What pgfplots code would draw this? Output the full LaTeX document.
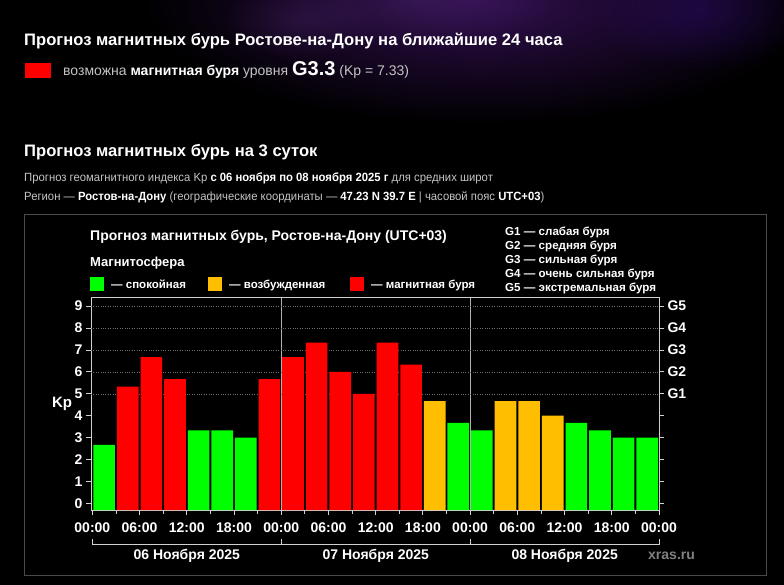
\documentclass[border=0pt]{standalone}
\usepackage{pgfplots}
\pgfplotsset{compat=1.18}
\usepackage{pgfplotstable}
\usetikzlibrary{fadings}
\usepackage{fontspec}
\setmainfont{Liberation Sans}
\newfontfamily\narrowfont[FakeStretch=0.95]{Liberation Sans}
\definecolor{kpgreen}{HTML}{00FF00}
\definecolor{kporange}{HTML}{FFBF00}
\definecolor{kpred}{HTML}{FF0000}
\definecolor{pagegray}{HTML}{C4C4C4}
\definecolor{boxgray}{HTML}{4A4A4A}
\definecolor{axgray}{HTML}{D0D0D0}
\definecolor{gridgray}{HTML}{707070}
\definecolor{nebula}{RGB}{66,20,106}
\newcommand\px[1]{\fontsize{#1}{#1}\selectfont}
\tikzfading[name=softedge, inner color=transparent!0, outer color=transparent!100]

% hour (centre of 3-hour interval), Kp
\pgfplotstableread{
h kp
1.5 2.67
13.5 3.33
16.5 3.33
19.5 3.00
46.5 3.67
49.5 3.33
61.5 3.67
64.5 3.33
67.5 3.00
70.5 3.00
}\greendata
\pgfplotstableread{
h kp
43.5 4.67
52.5 4.67
55.5 4.67
58.5 4.00
}\orangedata
\pgfplotstableread{
h kp
4.5 5.33
7.5 6.67
10.5 5.67
22.5 5.67
25.5 6.67
28.5 7.33
31.5 6.00
34.5 5.00
37.5 7.33
40.5 6.33
}\reddata

\begin{document}
\begin{tikzpicture}
\path[use as bounding box] (0pt,0pt) rectangle (784pt,-585pt);
\fill[black] (0pt,0pt) rectangle (784pt,-585pt);
\begin{scope}[x=1pt,y=-1pt]
  % nebula glow
  \fill[nebula, path fading=softedge, fill opacity=0.75] (480,0) ellipse (340 and 125);
  \fill[nebula!90!white, path fading=softedge, fill opacity=0.3] (420,0) ellipse (140 and 50);
  \fill[nebula!80!blue, path fading=softedge, fill opacity=0.35] (700,10) ellipse (110 and 60);
  \fill[nebula!90!white, path fading=softedge, fill opacity=0.3] (300,20) ellipse (80 and 40);
  % page texts
  \node[anchor=base west, inner sep=0, text=white, font=\bfseries\px{16.6}] at (24,46)
    {Прогноз магнитных бурь Ростове-на-Дону на ближайшие 24 часа};
  \fill[kpred] (25,63) rectangle (51,78);
  \node[anchor=base west, inner sep=0, text=pagegray, font=\px{14}] at (63,76)
    {возможна \textcolor{white}{\bfseries магнитная буря} уровня \textcolor{white}{\bfseries\px{20}G3.3} (Kp = 7.33)};
  \node[anchor=base west, inner sep=0, text=white, font=\bfseries\px{16.6}] at (24,157)
    {Прогноз магнитных бурь на 3 суток};
  \node[anchor=base west, inner sep=0, text=pagegray, font=\narrowfont\px{11.9}] at (24,182)
    {Прогноз геомагнитного индекса Kp \textcolor{white}{\bfseries с 06 ноября по 08 ноября 2025 г} для средних широт};
  \node[anchor=base west, inner sep=0, text=pagegray, font=\narrowfont\px{11.9}] at (24,201)
    {Регион — \textcolor{white}{\bfseries Ростов-на-Дону} (географические координаты — \textcolor{white}{\bfseries 47.23 N 39.7 E} | часовой пояс \textcolor{white}{\bfseries UTC+03})};
  % chart frame
  \draw[boxgray, line width=1pt] (24.5,214.5) rectangle (766,575);
  % chart header and legend
  \node[anchor=base west, inner sep=0, text=white, font=\bfseries\px{14}] at (90,241)
    {Прогноз магнитных бурь, Ростов-на-Дону (UTC+03)};
  \node[anchor=base west, inner sep=0, text=white, font=\bfseries\px{13}] at (90,267) {Магнитосфера};
  \fill[kpgreen] (90,277) rectangle (104,291);
  \node[anchor=base west, inner sep=0, text=white, font=\bfseries\px{11.5}] at (111,288) {— спокойная};
  \fill[kporange] (208,277) rectangle (222,291);
  \node[anchor=base west, inner sep=0, text=white, font=\bfseries\px{11.5}] at (229,288) {— возбужденная};
  \fill[kpred] (350,277) rectangle (364,291);
  \node[anchor=base west, inner sep=0, text=white, font=\bfseries\px{11.5}] at (371,288) {— магнитная буря};
  \foreach \t [count=\i] in {G1 — слабая буря, G2 — средняя буря, G3 — сильная буря, G4 — очень сильная буря, G5 — экстремальная буря}
    \node[anchor=base west, inner sep=0, text=white, font=\bfseries\px{11.6}] at (505,221.5+14*\i) {\t};
  % day brackets
  \draw[axgray, line width=1pt] (92.3,539) -- (92.3,544.5) -- (659,544.5) -- (659,539);
  \draw[axgray, line width=1pt] (281.3,539) -- (281.3,544.5);
  \draw[axgray, line width=1pt] (470.3,539) -- (470.3,544.5);
  \node[anchor=base, inner sep=0, text=white, font=\bfseries\px{14}] at (186.8,559) {06 Ноября 2025};
  \node[anchor=base, inner sep=0, text=white, font=\bfseries\px{14}] at (375.8,559) {07 Ноября 2025};
  \node[anchor=base, inner sep=0, text=white, font=\bfseries\px{14}] at (564.7,559) {08 Ноября 2025};
  \node[anchor=base west, inner sep=0, text=gray, font=\bfseries\px{14}] at (648,559) {xras.ru};
\end{scope}

\pgfplotsset{kpaxis/.style={
  at={(91pt,-510pt)}, anchor=south west,
  scale only axis, width=568pt, height=212pt,
  xmin=-0.17, xmax=72, ymin=-0.3, ymax=9.37,
  y coord trafo/.code={\pgfmathparse{##1+0.3}},
  y coord inv trafo/.code={\pgfmathparse{##1-0.3}},
  /pgf/number format/assume math mode=true,
  tick align=outside, major tick length=5pt, minor tick length=4pt,
  tick style={axgray, line width=0.8pt},
  ticklabel style={font=\bfseries\px{14}, text=white},
}}

\begin{axis}[kpaxis,
  axis line style={axgray, line width=1pt},
  xtick={0,6,...,72},
  xticklabels={00:00,06:00,12:00,18:00,00:00,06:00,12:00,18:00,00:00,06:00,12:00,18:00,00:00},
  minor xtick={3,9,...,69},
  xticklabel style={yshift=-4.5pt},
  xtick pos=bottom, ytick pos=left,
  ytick={0,...,9}, yticklabels={0,1,2,3,4,5,6,7,8,9},
  extra y ticks={5,6,7,8,9}, extra y tick labels={},
  extra y tick style={grid=major, major grid style={gridgray, dotted, line width=0.6pt}},
  extra x ticks={24,48}, extra x tick labels={},
  extra x tick style={grid=major, major grid style={axgray!85!black, line width=1pt}, major tick length=0pt},
  every axis y label/.style={at={(axis description cs:0,0.5)}, anchor=center, xshift=-29pt, font=\bfseries\px{15}, text=white},
  ylabel={Kp},
]
\addplot[ybar, bar width=2.75, bar shift=0pt, fill=kpgreen, draw=none] table[x=h,y=kp] {\greendata};
\addplot[ybar, bar width=2.75, bar shift=0pt, fill=kporange, draw=none] table[x=h,y=kp] {\orangedata};
\addplot[ybar, bar width=2.75, bar shift=0pt, fill=kpred, draw=none] table[x=h,y=kp] {\reddata};
\end{axis}

\begin{axis}[kpaxis,
  axis x line=none, axis y line*=right,
  axis line style={axgray, line width=1pt},
  ytick={0,...,9}, yticklabels={,,,,,G1,G2,G3,G4,G5},
]
\end{axis}
\end{tikzpicture}
\end{document}
